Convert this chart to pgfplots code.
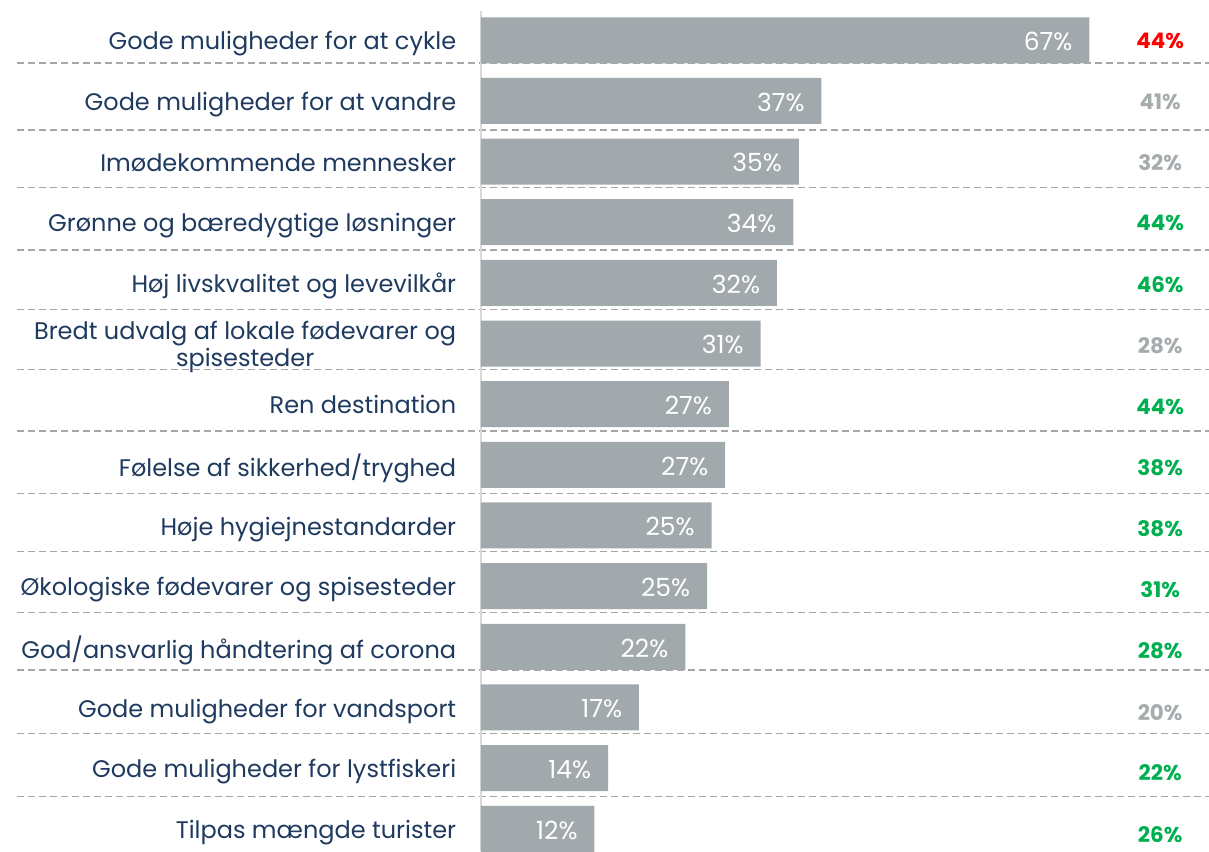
\documentclass[border=0pt]{standalone}
\usepackage{fontspec}
\setmainfont{Poppins}
\usepackage{pgfplots}
\pgfplotsset{compat=1.18}
\definecolor{navy}{HTML}{1F3A5F}
\definecolor{barcol}{HTML}{A2A9AC}
\definecolor{rgray}{HTML}{A6ABAE}
\definecolor{rgreen}{HTML}{00B050}
\definecolor{rred}{HTML}{FF0000}
\definecolor{dashcol}{HTML}{A6A6A6}
\definecolor{vline}{HTML}{D9D9D9}
\begin{document}
\begin{tikzpicture}[font=\fontsize{12}{14.4}\selectfont]
\begin{axis}[
  name=ax,
  scale only axis, width=364pt, height=425.5pt,
  xmin=0, xmax=80.18, ymin=-0.664, ymax=13.367, y dir=reverse,
  axis line style={draw=none},
  xtick=\empty,
  ytick={0,...,13},
  major tick length=0pt,
  yticklabels={
    \strut Gode muligheder for at cykle,
    \strut Gode muligheder for at vandre,
    \strut Imødekommende mennesker,
    \strut Grønne og bæredygtige løsninger,
    \strut Høj livskvalitet og levevilkår,
    {\strut Bredt udvalg af lokale fødevarer og\\\strut spisesteder},
    \strut Ren destination,
    \strut Følelse af sikkerhed/tryghed,
    \strut Høje hygiejnestandarder,
    \strut Økologiske fødevarer og spisesteder,
    \strut God/ansvarlig håndtering af corona,
    \strut Gode muligheder for vandsport,
    \strut Gode muligheder for lystfiskeri,
    \strut Tilpas mængde turister},
  yticklabel style={anchor=east, align=center, inner sep=0pt, xshift=-12.2pt, yshift=-2.1pt, text=navy, font=\fontsize{12}{13.7}\selectfont},
  clip=false,
]
\pgfplotsinvokeforeach{0.374,1.479,2.430,3.457,4.435,5.425,6.442,7.469,8.432,9.438,10.382,11.426,12.472}{
  \draw[dashcol, line width=0.75pt, dash pattern=on 3.5pt off 2pt] (axis cs:-51.1,#1) -- (axis cs:80.18,#1);
}
\draw[vline, line width=1pt] (axis cs:0,-0.483) -- (axis cs:0,13.367);
\addplot[xbar, fill=barcol, draw=none, bar width=23pt,
  nodes near coords, point meta=explicit symbolic,
  nodes near coords style={anchor=east, inner sep=0pt, xshift=-8.3pt, yshift=-0.6pt, text=white, font=\fontsize{12.5}{14}\selectfont}]
coordinates {
  (67.0,0) [67\%]
  (37.5,1) [37\%]
  (35.0,2) [35\%]
  (34.4,3) [34\%]
  (32.6,4) [32\%]
  (30.8,5) [31\%]
  (27.3,6) [27\%]
  (26.9,7) [27\%]
  (25.4,8) [25\%]
  (24.9,9) [25\%]
  (22.5,10) [22\%]
  (17.4,11) [17\%]
  (14.0,12) [14\%]
  (12.5,13) [12\%]
};
\addplot[only marks, mark=none, nodes near coords, point meta=explicit symbolic,
  nodes near coords style={anchor=center, inner sep=0pt, text=rred, font=\fontsize{10.7}{12}\selectfont\bfseries}]
coordinates {(74.8,0.01) [44\%]};
\addplot[only marks, mark=none, nodes near coords, point meta=explicit symbolic,
  nodes near coords style={anchor=center, inner sep=0pt, text=rgray, font=\fontsize{10.7}{12}\selectfont\bfseries}]
coordinates {(74.8,1.02) [41\%] (74.8,2.02) [32\%] (74.8,5.04) [28\%] (74.8,11.08) [20\%]};
\addplot[only marks, mark=none, nodes near coords, point meta=explicit symbolic,
  nodes near coords style={anchor=center, inner sep=0pt, text=rgreen, font=\fontsize{10.7}{12}\selectfont\bfseries}]
coordinates {(74.8,3.01) [44\%] (74.8,4.03) [46\%] (74.8,6.05) [44\%] (74.8,7.05) [38\%] (74.8,8.06) [38\%] (74.8,9.06) [31\%] (74.8,10.07) [28\%] (74.8,12.08) [22\%] (74.8,13.09) [26\%]};
\end{axis}
\pgfresetboundingbox
\path ([xshift=-240.5pt]ax.south west) rectangle (ax.north east);
\end{tikzpicture}
\end{document}
